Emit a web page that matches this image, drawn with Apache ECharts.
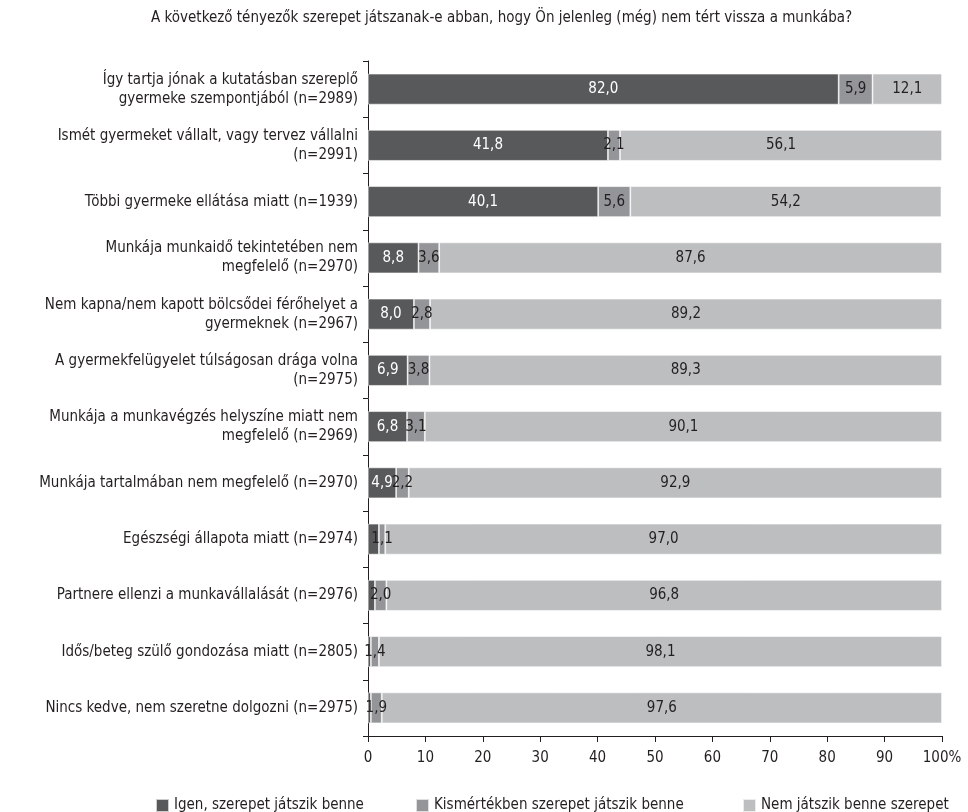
<!DOCTYPE html>
<html>
<head>
<meta charset="utf-8">
<script src="https://cdn.jsdelivr.net/npm/echarts@6/dist/echarts.min.js"></script>
<style>
html,body{margin:0;padding:0;background:#fff;}
#chart{width:968px;height:812px;}
</style>
</head>
<body>
<div id="chart"></div>
<script>
var titleText = 'A következő tényezők szerepet játszanak-e abban, hogy Ön jelenleg (még) nem tért vissza a munkába?';
var categories = [
  'Így tartja jónak a kutatásban szereplő\ngyermeke szempontjából (n=2989)',
  'Ismét gyermeket vállalt, vagy tervez vállalni\n(n=2991)',
  'Többi gyermeke ellátása miatt (n=1939)',
  'Munkája munkaidő tekintetében nem\nmegfelelő (n=2970)',
  'Nem kapna/nem kapott bölcsődei férőhelyet a\ngyermeknek (n=2967)',
  'A gyermekfelügyelet túlságosan drága volna\n(n=2975)',
  'Munkája a munkavégzés helyszíne miatt nem\nmegfelelő (n=2969)',
  'Munkája tartalmában nem megfelelő (n=2970)',
  'Egészségi állapota miatt (n=2974)',
  'Partnere ellenzi a munkavállalását (n=2976)',
  'Idős/beteg szülő gondozása miatt (n=2805)',
  'Nincs kedve, nem szeretne dolgozni (n=2975)'
];
var seriesNames = ['Igen, szerepet játszik benne', 'Kismértékben szerepet játszik benne', 'Nem játszik benne szerepet'];
var yesValues = [82.0, 41.8, 40.1, 8.8, 8.0, 6.9, 6.8, 4.9, 1.9, 1.2, 0.5, 0.5];
var someValues = [5.9, 2.1, 5.6, 3.6, 2.8, 3.8, 3.1, 2.2, 1.1, 2.0, 1.4, 1.9];
var noValues = [12.1, 56.1, 54.2, 87.6, 89.2, 89.3, 90.1, 92.9, 97.0, 96.8, 98.1, 97.6];
var xTicks = [0, 10, 20, 30, 40, 50, 60, 70, 80, 90, 100];

var FONT = '"Liberation Sans Narrow", "DejaVu Sans Condensed", "Roboto", sans-serif';
var colors = ['#58595b', '#939598', '#bcbec0'];
var TEXT = '#231f20';

function fmt(v) { return v.toFixed(1).replace('.', ','); }

var chart = echarts.init(document.getElementById('chart'), null, {renderer: 'canvas'});

function makeSeries(name, values, color, labelColor, minShow) {
  return {
    name: name,
    type: 'bar',
    stack: 'total',
    barWidth: '55%',
    data: values,
    itemStyle: {color: color, borderColor: 'rgba(255,255,255,0.7)', borderWidth: 0.8},
    emphasis: {disabled: true},
    label: {
      show: true,
      position: 'inside',
      color: labelColor,
      fontFamily: FONT,
      fontSize: 15,
      formatter: function (p) { return p.value >= minShow ? fmt(p.value) : ''; }
    }
  };
}

function legendItem(i, left) {
  return {
    data: [{name: seriesNames[i], icon: 'rect'}],
    left: left, top: 793, itemWidth: 13, itemHeight: 13,
    textStyle: {fontFamily: FONT, fontSize: 15, color: TEXT}
  };
}

var option = {
  animation: false,
  backgroundColor: '#fff',
  textStyle: {fontFamily: FONT},
  title: {
    text: titleText,
    left: 146,
    top: 6,
    textStyle: {fontFamily: FONT, fontSize: 15, fontWeight: 'normal', color: TEXT}
  },
  legend: [legendItem(0, 150), legendItem(1, 410), legendItem(2, 737)],
  grid: {left: 368, right: 26, top: 61, bottom: 76, containLabel: false},
  xAxis: {
    type: 'value',
    min: xTicks[0],
    max: xTicks[xTicks.length - 1],
    interval: 10,
    axisLine: {show: true, lineStyle: {color: TEXT, width: 1}},
    axisTick: {show: true, length: 6, lineStyle: {color: TEXT}},
    splitLine: {show: false},
    axisLabel: {
      margin: 15,
      fontFamily: FONT,
      fontSize: 15,
      color: TEXT,
      formatter: function (v) { return v === 100 ? '100%' : String(v); }
    }
  },
  yAxis: {
    type: 'category',
    inverse: true,
    data: categories,
    axisLine: {show: true, lineStyle: {color: TEXT, width: 1}},
    axisTick: {show: true, length: 5, alignWithLabel: false, lineStyle: {color: TEXT}},
    axisLabel: {
      margin: 10,
      fontFamily: FONT,
      fontSize: 15,
      lineHeight: 19,
      color: TEXT,
      align: 'right'
    }
  },
  series: [
    makeSeries(seriesNames[0], yesValues, colors[0], '#ffffff', 3),
    makeSeries(seriesNames[1], someValues, colors[1], TEXT, 0),
    makeSeries(seriesNames[2], noValues, colors[2], TEXT, 0)
  ]
};
chart.setOption(option);
</script>
</body>
</html>
